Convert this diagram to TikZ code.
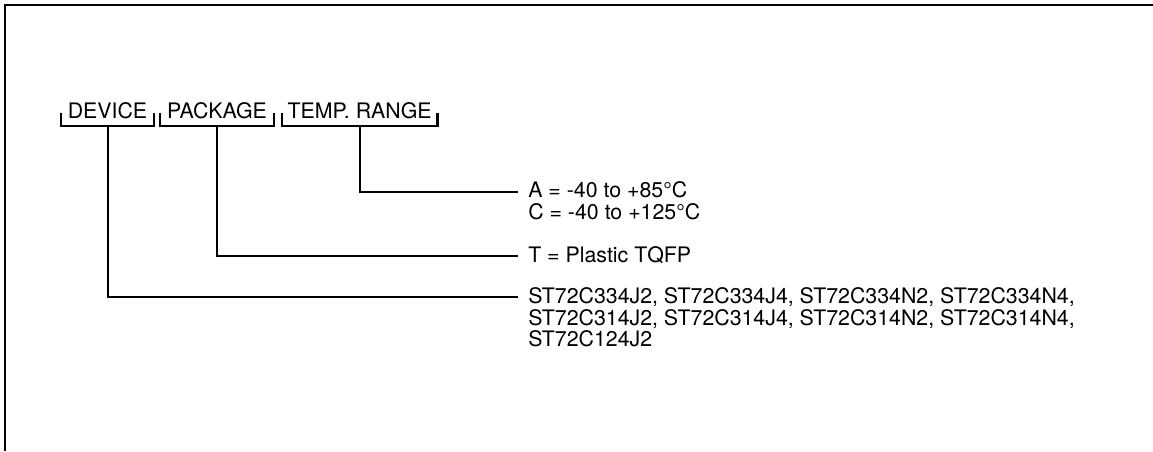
\documentclass[tikz,border=0pt]{standalone}
\usepackage{fontspec}
\setmainfont{TeX Gyre Heros}
\usetikzlibrary{positioning}
\tikzset{
  frameline/.style = {line width=1.9pt, black},
  brk/.style       = {line width=1.8pt, black},
  lead/.style      = {line width=1.5pt, black},
  hdr/.style       = {font=\fontsize{16}{16}\selectfont, anchor=base,
                      inner xsep=0pt, inner ysep=6pt, text depth=0pt},
  val/.style       = {font=\fontsize{16}{16.1}\selectfont, anchor=north west,
                      inner sep=0pt, align=left},
}

\begin{document}
\begin{tikzpicture}[x=0.75pt,y=-0.75pt]
  \useasboundingbox (0,0) rectangle (1153,451);
  \draw[frameline] (5,451) -- (5,5) -- (1153,5);

  % code fields
  \node[hdr, minimum width=69.75pt] (dev) at (107.5,118) {DEVICE};
  \node[hdr, minimum width=84.75pt, base right=4.5pt of dev] (pkg) {PACKAGE};
  \node[hdr, minimum width=116.25pt, base right=6pt of pkg] (tmp) {TEMP. RANGE};
  \foreach \f in {dev,pkg,tmp}
    \draw[brk] ([yshift=9.75pt]\f.south west) |- (\f.south east)
               -- ([yshift=9.75pt]\f.south east);

  % options
  \coordinate (tmpend) at (518,192);
  \coordinate (pkgend) at (518,256);
  \coordinate (devend) at (518,297);
  \node[val] (tmpval) at (528,181.5) {A = -40 to +85°C\\C = -40 to +125°C};
  \node[val, anchor=base west] (pkgval) at (528,262) {T = Plastic TQFP};
  \node[val] (devval) at (528,287.5)
    {ST72C334J2, ST72C334J4, ST72C334N2, ST72C334N4,\\
     ST72C314J2, ST72C314J4, ST72C314N2, ST72C314N4,\\
     ST72C124J2};

  \draw[lead] (tmp.south) |- (tmpend);
  \draw[lead] (pkg.south) |- (pkgend);
  \draw[lead] (dev.south) |- (devend);
\end{tikzpicture}
\end{document}
